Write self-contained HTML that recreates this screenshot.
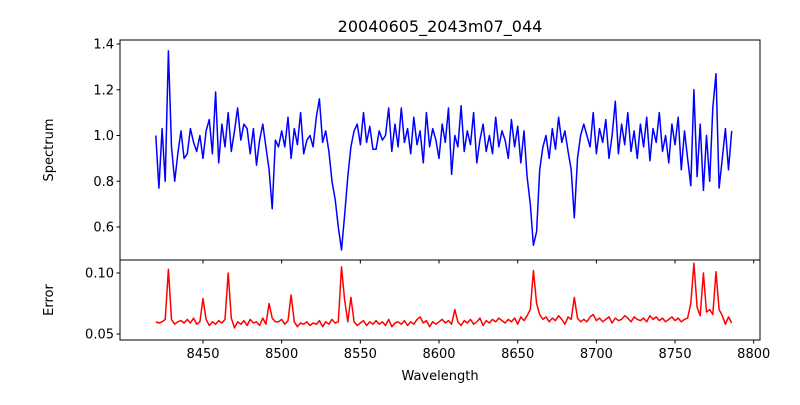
<!DOCTYPE html>
<html><head><meta charset="utf-8"><style>
body{margin:0;background:#fff}
svg text{font-family:"DejaVu Sans","Liberation Sans",sans-serif;fill:#000}
</style></head><body>
<svg id="chart" width="800" height="400" viewBox="0 0 800 400" xmlns="http://www.w3.org/2000/svg">
<rect width="800" height="400" fill="#fff"/>
<text x="440" y="32" font-size="16" text-anchor="middle">20040605_2043m07_044</text>
<text x="0" y="0" font-size="13" text-anchor="middle" transform="translate(53,150) rotate(-90)">Spectrum</text>
<text x="0" y="0" font-size="13" text-anchor="middle" transform="translate(53,300) rotate(-90)">Error</text>
<text x="440" y="380" font-size="13" text-anchor="middle">Wavelength</text>
<g id="g"></g>
</svg>
<script>
const wlStart = 8420, wlStep = 2;
const spectrum = [
1.00,0.77,1.03,0.80,1.37,0.95,0.80,0.92,1.02,0.90,
0.92,1.03,0.97,0.93,1.00,0.90,1.02,1.07,0.92,1.19,
0.88,1.05,0.95,1.10,0.93,1.02,1.12,0.98,1.05,1.03,
0.92,1.03,0.87,0.98,1.05,0.95,0.85,0.68,0.98,0.95,
1.02,0.95,1.08,0.90,1.03,0.96,1.10,0.92,0.98,1.00,
0.95,1.08,1.16,0.97,1.02,0.93,0.80,0.72,0.60,0.50,
0.65,0.82,0.95,1.02,1.05,0.96,1.10,0.97,1.04,0.94,
0.94,1.02,0.98,1.00,1.12,0.93,1.05,0.95,1.12,0.97,
1.03,0.92,1.08,0.96,1.02,0.88,1.10,0.95,1.03,0.98,
0.90,1.05,0.97,1.12,0.83,1.00,0.95,1.13,0.93,1.02,
0.96,1.10,0.88,0.98,1.05,0.93,1.00,0.92,1.08,0.95,
1.02,0.98,0.90,1.07,0.95,1.04,0.88,1.02,0.82,0.70,
0.52,0.58,0.85,0.95,1.00,0.90,1.03,0.94,1.08,0.97,
1.02,0.93,0.85,0.64,0.90,1.00,1.05,1.00,0.95,1.10,
0.92,1.03,0.97,1.07,0.90,1.00,1.15,0.92,1.05,0.96,
1.10,0.93,1.02,0.90,1.05,0.95,1.08,0.89,1.03,0.97,
1.10,0.93,1.00,0.88,1.05,0.96,1.08,0.85,1.02,0.90,
0.78,1.20,0.82,1.05,0.76,1.00,0.80,1.12,1.27,0.77,
0.90,1.03,0.85,1.02];
const errorVals = [
.060,.059,.060,.062,.103,.062,.058,.060,.061,.059,
.062,.059,.063,.058,.060,.079,.062,.057,.060,.058,
.061,.059,.062,.100,.063,.055,.060,.058,.061,.057,
.062,.059,.060,.057,.063,.058,.075,.063,.060,.060,
.062,.058,.061,.082,.060,.056,.059,.058,.060,.057,
.059,.058,.061,.056,.060,.058,.062,.059,.060,.105,
.078,.060,.080,.060,.057,.059,.061,.057,.060,.058,
.061,.058,.060,.057,.062,.056,.059,.060,.058,.061,
.057,.060,.058,.062,.064,.059,.061,.056,.060,.058,
.060,.062,.059,.061,.058,.070,.060,.057,.061,.059,
.062,.058,.060,.063,.057,.061,.059,.062,.060,.063,
.061,.059,.062,.060,.063,.058,.064,.061,.065,.070,
.102,.075,.066,.062,.064,.060,.063,.061,.065,.062,
.058,.064,.062,.080,.063,.060,.062,.060,.064,.066,
.061,.063,.060,.062,.064,.059,.063,.061,.062,.065,
.063,.060,.064,.062,.061,.063,.060,.065,.062,.064,
.061,.063,.060,.062,.064,.061,.063,.060,.062,.063,
.075,.108,.072,.065,.100,.068,.070,.066,.101,.070,
.065,.058,.064,.059];
const xTicks = [8450,8500,8550,8600,8650,8700,8750,8800];
const specTicks = [0.6,0.8,1.0,1.2,1.4];
const errTicks = [0.05,0.10];

const NS="http://www.w3.org/2000/svg";
const g=document.getElementById('g');
const L=120,R=760,T1=40,B1=260,T2=260,B2=340;
const xS=v=>203+(v-8450)*1.5735;
const yS1=v=>227-(v-0.6)*228.75;
const yS2=v=>334-(v-0.05)*1220;
function mk(t,a){const e=document.createElementNS(NS,t);for(const k in a)e.setAttribute(k,a[k]);g.appendChild(e);return e;}
function line(ds,yS,color,name){
  let d='';ds.forEach((v,i)=>{d+=(i?'L':'M')+xS(wlStart+i*wlStep).toFixed(1)+','+yS(v).toFixed(1);});
  const p=mk('path',{d:d,fill:'none',stroke:color,'stroke-width':1.5,'stroke-linejoin':'round'});
  
  
}
line(spectrum,yS1,'#0000ff','spectrum-line');
line(errorVals,yS2,'#ff0000','error-line');
const f1=mk('rect',{x:L,y:T1,width:R-L,height:B1-T1,fill:'none',stroke:'#000','stroke-width':1});


const f2=mk('rect',{x:L,y:T2,width:R-L,height:B2-T2,fill:'none',stroke:'#000','stroke-width':1});


specTicks.forEach(v=>{const y=yS1(v);
  mk('line',{x1:L-3.5,x2:L,y1:y,y2:y,stroke:'#000'});
  const t=mk('text',{x:L-6,y:y+4.5,'font-size':13,'text-anchor':'end'});t.textContent=v.toFixed(1);
  
  
});
errTicks.forEach(v=>{const y=yS2(v);
  mk('line',{x1:L-3.5,x2:L,y1:y,y2:y,stroke:'#000'});
  const t=mk('text',{x:L-6,y:y+4.5,'font-size':13,'text-anchor':'end'});t.textContent=v.toFixed(2);
  
  
});
xTicks.forEach(v=>{const x=xS(v);
  mk('line',{x1:x,x2:x,y1:B2,y2:B2+3.5,stroke:'#000'});
  mk('line',{x1:x,x2:x,y1:B1,y2:B1+3.5,stroke:'#000'});
  const t=mk('text',{x:x,y:B2+18,'font-size':13,'text-anchor':'middle'});t.textContent=v;
  
  
});
</script>
</body></html>
